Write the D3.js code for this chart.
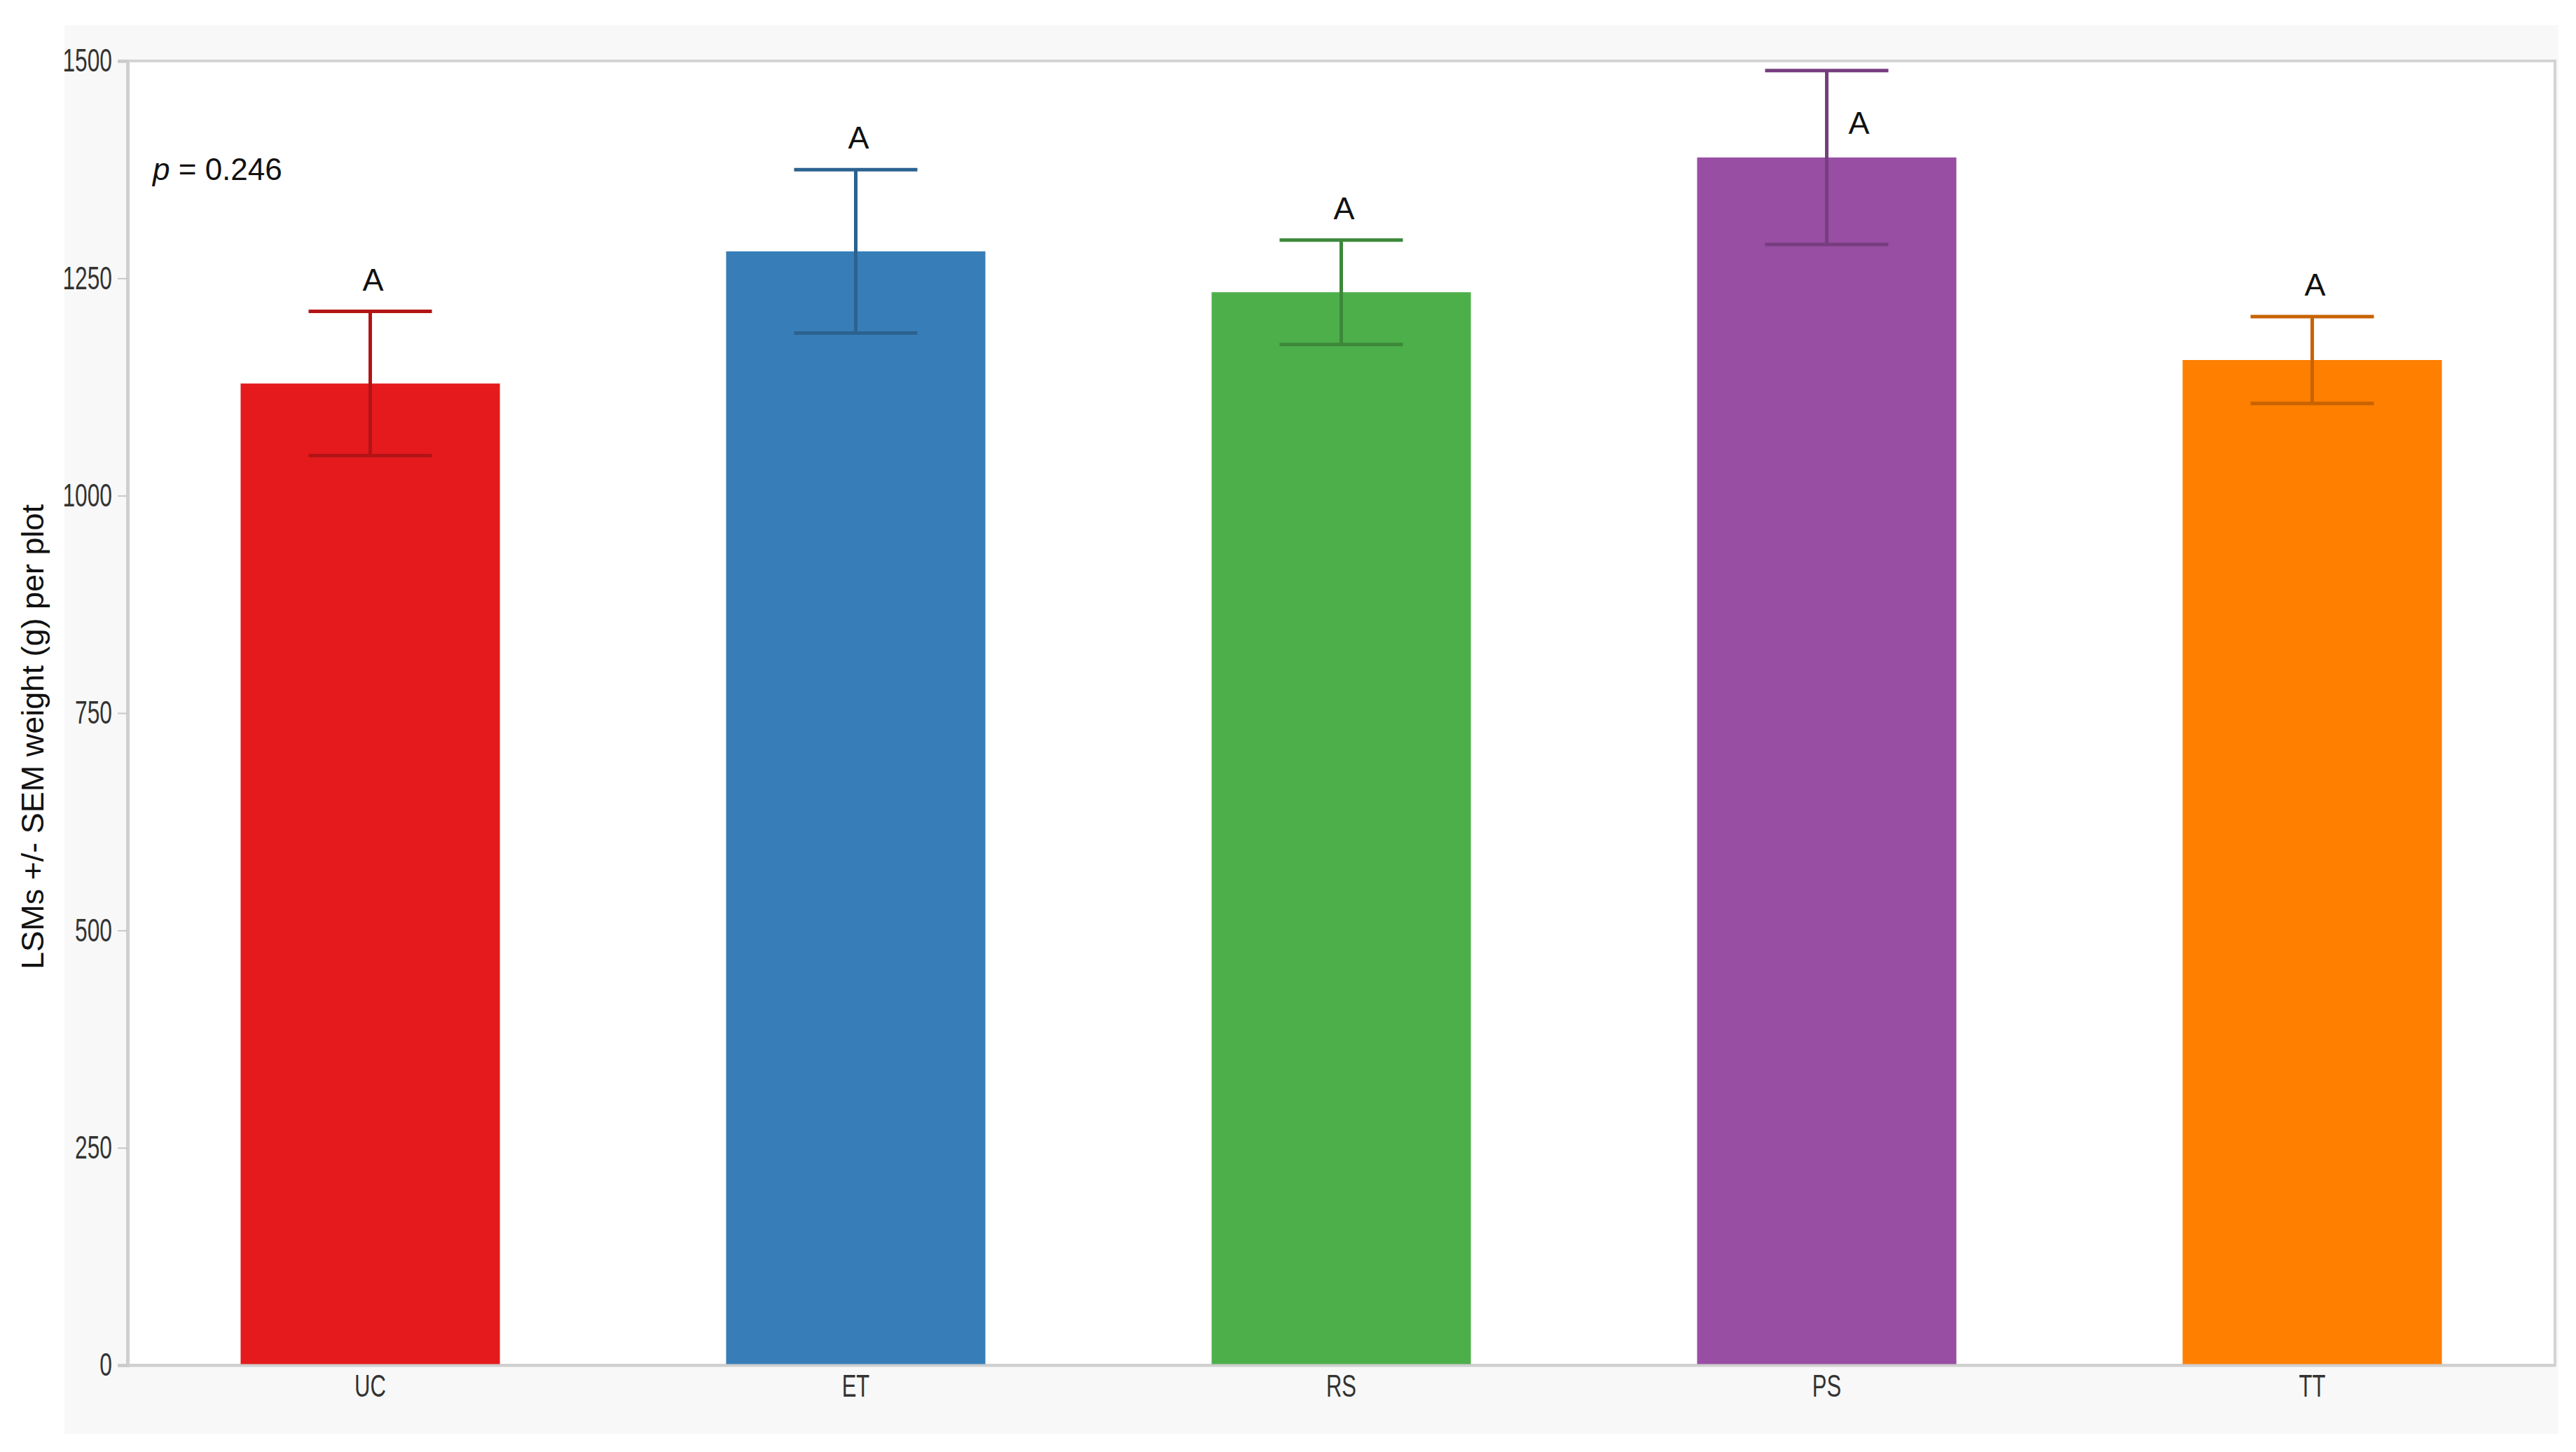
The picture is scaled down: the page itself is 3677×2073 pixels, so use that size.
<!DOCTYPE html>
<html>
<head>
<meta charset="utf-8">
<script src="https://cdn.jsdelivr.net/npm/d3@7"></script>
<style>
  html, body { margin: 0; padding: 0; background: #ffffff; }
  svg { display: block; }
</style>
</head>
<body>
<svg id="chart" width="3677" height="2073"></svg>
<script>
// ---- data ----
const categories = ["UC", "ET", "RS", "PS", "TT"];
const means = [1129, 1281, 1234, 1389, 1156];
const sems = [83, 94, 60, 100, 50];
const groupLetters = ["A", "A", "A", "A", "A"];
const barColors = ["#e41a1c", "#377eb8", "#4daf4a", "#984ea3", "#ff7f00"];
const yTicks = [0, 250, 500, 750, 1000, 1250, 1500];
const pText = "0.246";
const yTitle = "LSMs +/- SEM weight (g) per plot";

// ---- layout ----
const plot = { left: 182, top: 87, right: 3647, bottom: 1949 };
const narrow = 0.69;

const svg = d3.select("#chart");

// outer gray panel
svg.append("rect")
  .attr("x", 92).attr("y", 36)
  .attr("width", 3560).attr("height", 2011)
  .attr("fill", "#f8f8f8");

// plot area
svg.append("rect")
  .attr("x", plot.left).attr("y", plot.top)
  .attr("width", plot.right - plot.left).attr("height", plot.bottom - plot.top)
  .attr("fill", "#ffffff")
  .attr("stroke", "#d4d4d4").attr("stroke-width", 4);

const x = d3.scaleBand()
  .domain(categories)
  .range([plot.left, plot.right])
  .paddingInner(0.466)
  .paddingOuter(0.233);

const y = d3.scaleLinear()
  .domain([0, 1500])
  .range([plot.bottom, plot.top]);

const data = categories.map((c, i) => ({
  cat: c, mean: means[i], sem: sems[i], letter: groupLetters[i], color: barColors[i]
}));

// bars
svg.append("g").selectAll("rect")
  .data(data).join("rect")
  .attr("x", d => x(d.cat))
  .attr("y", d => y(d.mean))
  .attr("width", x.bandwidth())
  .attr("height", d => y(0) - y(d.mean))
  .attr("fill", d => d.color);

// error bars
const capHalf = 88;
const eb = svg.append("g");
data.forEach(d => {
  const cx = x(d.cat) + x.bandwidth() / 2;
  const yt = y(d.mean + d.sem), yb = y(d.mean - d.sem);
  const col = d3.color(d.color).darker(0.7).formatHex();
  eb.append("line").attr("x1", cx).attr("x2", cx).attr("y1", yt).attr("y2", yb)
    .attr("stroke", col).attr("stroke-width", 5);
  eb.append("line").attr("x1", cx - capHalf).attr("x2", cx + capHalf).attr("y1", yt).attr("y2", yt)
    .attr("stroke", col).attr("stroke-width", 5);
  eb.append("line").attr("x1", cx - capHalf).attr("x2", cx + capHalf).attr("y1", yb).attr("y2", yb)
    .attr("stroke", col).attr("stroke-width", 5);

  // letter
  let lx = cx + 4, ly = yt - 30;
  if (ly - 34 < plot.top) { lx = cx + 46; ly = yt + 90; }
  svg.append("text")
    .attr("x", lx).attr("y", ly)
    .attr("text-anchor", "middle")
    .attr("font-family", "Liberation Sans, Arial, sans-serif")
    .attr("font-size", 45)
    .attr("fill", "#111")
    .text(d.letter);
});

// y axis
const yTickSize = 14, yTickPad = 8;
const yAxis = d3.axisLeft(y).tickValues(yTicks).tickFormat(d3.format("d"))
  .tickSize(yTickSize).tickPadding(yTickPad);
const gy = svg.append("g").attr("transform", `translate(${plot.left},0)`).call(yAxis);
gy.select(".domain").attr("stroke", "#cfcfcf").attr("stroke-width", 5);
gy.selectAll(".tick line").attr("stroke", "#c8c8c8").attr("stroke-width", 2);
gy.selectAll(".tick text")
  .attr("font-family", "Liberation Sans, Arial, sans-serif")
  .attr("font-size", 46)
  .attr("fill", "#333")
  .attr("x", -(yTickSize + yTickPad) / narrow)
  .attr("transform", `scale(${narrow},1)`);

// x axis
const xAxis = d3.axisBottom(x).tickSize(0).tickPadding(13);
const gx = svg.append("g").attr("transform", `translate(0,${plot.bottom})`).call(xAxis);
gx.select(".domain").attr("stroke", "#cfcfcf").attr("stroke-width", 4);
gx.selectAll(".tick text")
  .attr("font-family", "Liberation Sans, Arial, sans-serif")
  .attr("font-size", 45)
  .attr("fill", "#333")
  .attr("transform", `scale(${narrow},1)`);

// p-value
const pt = svg.append("text")
  .attr("x", 218).attr("y", 257)
  .attr("font-family", "Liberation Sans, Arial, sans-serif")
  .attr("font-size", 44)
  .attr("fill", "#111");
pt.append("tspan").attr("font-style", "italic").text("p");
pt.append("tspan").text(" = " + pText);

// y title
svg.append("text")
  .attr("transform", `translate(62,${(plot.top + plot.bottom) / 2 + 34}) rotate(-90)`)
  .attr("text-anchor", "middle")
  .attr("font-family", "Liberation Sans, Arial, sans-serif")
  .attr("font-size", 45)
  .attr("fill", "#111")
  .text(yTitle);
</script>
</body>
</html>
